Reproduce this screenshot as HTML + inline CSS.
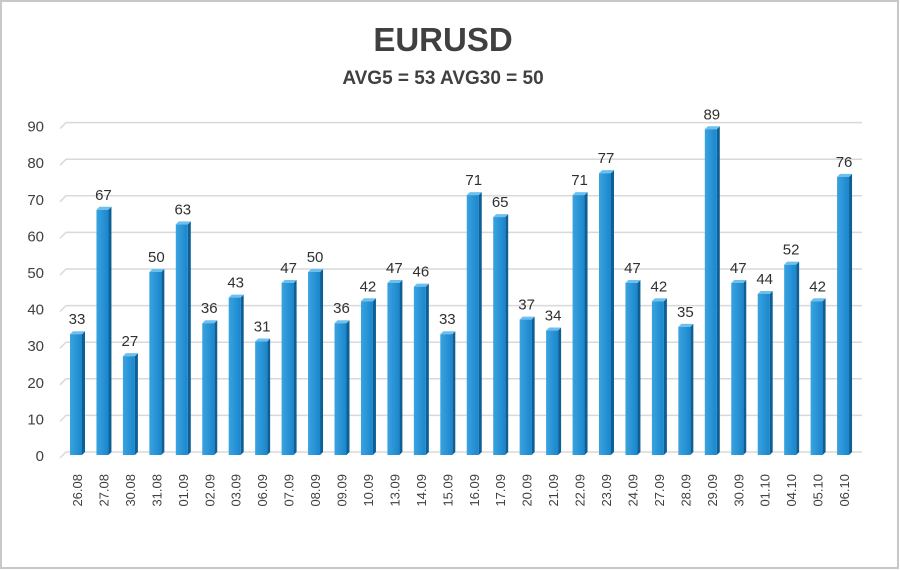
<!DOCTYPE html>
<html><head><meta charset="utf-8"><style>
body{margin:0;background:#fff}
svg{display:block;font-family:"Liberation Sans",sans-serif}
</style></head><body>
<svg id="c" width="900" height="570">
<rect x="1" y="1" width="897" height="567" fill="#fff" stroke="#c8c8c8" stroke-width="2"/>
<text x="443" y="51" text-anchor="middle" font-size="33" font-weight="bold" fill="#404040">EURUSD</text>
<text x="443" y="84" text-anchor="middle" font-size="19" font-weight="bold" fill="#404040">AVG5 = 53 AVG30 = 50</text>
<g id="grid"></g><g id="bars"></g>
</svg>
<script>
const categories=["26.08","27.08","30.08","31.08","01.09","02.09","03.09","06.09","07.09","08.09","09.09","10.09","13.09","14.09","15.09","16.09","17.09","20.09","21.09","22.09","23.09","24.09","27.09","28.09","29.09","30.09","01.10","04.10","05.10","06.10"];
const values=[33,67,27,50,63,36,43,31,47,50,36,42,47,46,33,71,65,37,34,71,77,47,42,35,89,47,44,52,42,76];
const yTicks=[0,10,20,30,40,50,60,70,80,90];
const NS="http://www.w3.org/2000/svg";
function y(v){return 455-v*3.66;}
function x(i){return 70+i*26.45;}
function mk(p,t,a){const e=document.createElementNS(NS,t);for(const k in a)e.setAttribute(k,a[k]);p.appendChild(e);return e;}
const g=document.getElementById('grid'),b=document.getElementById('bars');
yTicks.forEach(v=>{
  const l=mk(g,'polyline',{points:`60,${y(v)+3} 66,${y(v)-3} 862,${y(v)-3}`,fill:'none',stroke:'#d9d9d9','stroke-width':1.5});
  
  
  const t=mk(g,'text',{x:44,y:y(v)+6,'text-anchor':'end','font-size':15,fill:'#404040'});
  
  
  t.textContent=v;
});
const defs=mk(b,'defs',{});
const gr=mk(defs,'linearGradient',{id:'fg',x1:0,x2:1,y1:0,y2:0});
mk(gr,'stop',{offset:0,'stop-color':'#3aa3e0'});mk(gr,'stop',{offset:1,'stop-color':'#1a86cc'});
values.forEach((v,i)=>{
  const x0=x(i),yt=y(v),w=12,d=3;
  const s=mk(b,'polygon',{points:`${x0+w},${yt} ${x0+w+d},${yt-3} ${x0+w+d},452 ${x0+w},455`,fill:'#0d5f96'});
  
  
  const tp=mk(b,'polygon',{points:`${x0},${yt} ${x0+d},${yt-3} ${x0+w+d},${yt-3} ${x0+w},${yt}`,fill:'#6cc0ef'});
  
  
  const r=mk(b,'rect',{x:x0,y:yt,width:w,height:455-yt,fill:'url(#fg)'});
  
  
  const t=mk(b,'text',{x:x0+7,y:yt-10,'text-anchor':'middle','font-size':15,fill:'#303030'});
  
  
  t.textContent=v;
  const c=mk(b,'text',{transform:`translate(${x0+12},474) rotate(-90)`,'text-anchor':'end','font-size':13,fill:'#404040'});
  
  
  c.textContent=categories[i];
});
</script>
</body></html>
